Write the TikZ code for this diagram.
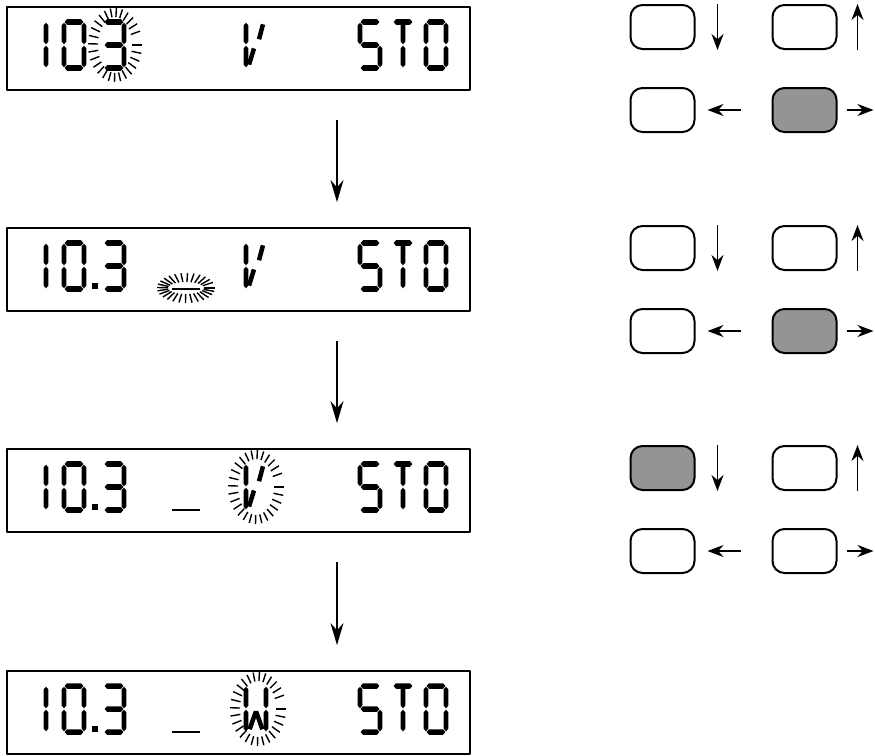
\documentclass[tikz,border=0pt]{standalone}
\usetikzlibrary{arrows.meta}
\newcommand\sgH[3]{\fill (#1+0.03,#3) -- (#1+0.15,#3-0.12) -- (#2-0.15,#3-0.12) -- (#2-0.03,#3) -- (#2-0.15,#3+0.12) -- (#1+0.15,#3+0.12) -- cycle;}
\newcommand\sgV[3]{\fill (#1,#2+0.03) -- (#1+0.12,#2+0.15) -- (#1+0.12,#3-0.15) -- (#1,#3-0.03) -- (#1-0.12,#3-0.15) -- (#1-0.12,#2+0.15) -- cycle;}
\newcommand\burst[6]{\foreach \a in {0,13,...,350}{\draw[ray] ({#1+#3*cos(\a)},{#2+#4*sin(\a)}) -- ({#1+#5*cos(\a)},{#2+#6*sin(\a)});}}
\tikzset{
  dispbox/.style={draw, line width=1.8pt, minimum width=463pt, minimum height=83pt, inner sep=0pt},
  btn/.style={draw, line width=2pt, rounded corners=12pt, minimum width=64pt, minimum height=44pt, inner sep=0pt},
  btnon/.style={btn, fill=black!42},
  flow/.style={line width=1.6pt, -{Stealth[length=22pt,width=13pt]}},
  karr/.style={line width=1.8pt, -{Stealth[length=16pt,width=12pt]}},
  ray/.style={line width=1.4pt},
  digit/.style={xscale=20,yscale=23},
  diag/.style={line width=4.5pt},
  pics/dzero/.style={code={\sgH{0}{1}{0}\sgV{1}{0}{1}\sgV{1}{1}{2}\sgH{0}{1}{2}\sgV{0}{1}{2}\sgV{0}{0}{1}}},
  pics/dthree/.style={code={\sgH{0}{1}{0}\sgV{1}{0}{1}\sgV{1}{1}{2}\sgH{0}{1}{2}\sgH{0}{1}{1}}},
  pics/dfive/.style={code={\sgH{0}{1}{0}\sgV{0}{0}{1}\sgH{0}{1}{1}\sgV{1}{1}{2}\sgH{0}{1}{2}}},
  pics/done/.style={code={\sgV{0}{0}{1}\sgV{0}{1}{2}}},
  pics/dT/.style={code={\sgH{0}{1}{0}\sgV{0.5}{0}{1}\sgV{0.5}{1}{2}}},
  pics/dV/.style={code={\sgV{0.1}{0}{1}\sgV{0.1}{1}{2}\draw[diag] (0.25,1.85)--(0.5,1.15);\draw[diag] (0.95,0.1)--(0.75,0.75);}},
  pics/dW/.style={code={\sgV{0}{0}{1}\sgV{0}{1}{2}\sgV{1}{0}{1}\sgV{1}{1}{2}\draw[diag] (0.5,1.1)--(0.18,1.88);\draw[diag] (0.5,1.1)--(0.82,1.88);}}
}
\begin{document}
\begin{tikzpicture}[x=1pt,y=-1pt,line join=round]
\useasboundingbox (0,0) rectangle (875,755);
% display boxes
\node[dispbox] (d1) at (238.5,48.5) {};
\node[dispbox] (d2) at (238.5,269.5) {};
\node[dispbox] (d3) at (238.5,490.5) {};
\node[dispbox] (d4) at (238.5,712.5) {};
\coordinate (ax) at (337,0);
\draw[flow,shorten <=29pt,shorten >=25pt] (d1.south -| ax) -- (d2.north -| ax);
\draw[flow,shorten <=29pt,shorten >=25pt] (d2.south -| ax) -- (d3.north -| ax);
\draw[flow,shorten <=29pt,shorten >=25pt] (d3.south -| ax) -- (d4.north -| ax);
% common display text
\foreach \t in {7,228,449,671}{
  \pic[digit] at (46,\t+15) {done};
  \pic[digit] at (64,\t+15) {dzero};
  \pic[digit] at (104,\t+15) {dthree};
  \pic[digit] at (360,\t+15) {dfive};
  \pic[digit] at (393,\t+15) {dT};
  \pic[digit] at (426,\t+15) {dzero};
}
\foreach \t in {228,449,671}{\fill (92,\t+55) rectangle (98,\t+61);}
\pic[digit] at (244,22) {dV};
\pic[digit] at (244,243) {dV};
\pic[digit] at (244,464) {dV};
\pic[digit] at (246,686) {dW};
% underscores
\draw[line width=2.8pt] (172,289) -- (200,289);
\draw[line width=2.8pt] (172,510) -- (200,510);
\draw[line width=2.8pt] (172,732) -- (200,732);
% flashing marks
\burst{115}{45}{17}{28}{27}{37}
\burst{186}{288}{18}{6}{29}{15}
\burst{256}{487}{18}{28}{28}{37}
\burst{258}{709}{18}{28}{28}{37}
% key groups
\node[btn]   (k11) at (662.5,27) {};
\node[btn]   (k12) at (804.5,27) {};
\node[btn]   (k13) at (662.5,110) {};
\node[btnon] (k14) at (804.5,110) {};
\node[btn]   (k21) at (662.5,248) {};
\node[btn]   (k22) at (804.5,248) {};
\node[btn]   (k23) at (662.5,331) {};
\node[btnon] (k24) at (804.5,331) {};
\node[btnon] (k31) at (662.5,468) {};
\node[btn]   (k32) at (804.5,468) {};
\node[btn]   (k33) at (662.5,551) {};
\node[btn]   (k34) at (804.5,551) {};
\foreach \g in {1,2,3}{
  \draw[karr] ([xshift=22pt]k\g1.north east) -- ([xshift=22pt]k\g1.south east);
  \draw[karr] ([xshift=20pt]k\g2.south east) -- ([xshift=20pt]k\g2.north east);
  \draw[karr] ([xshift=45pt]k\g3.east) -- ([xshift=12pt]k\g3.east);
  \draw[karr] ([xshift=9pt]k\g4.east) -- ([xshift=36pt]k\g4.east);
}
\end{tikzpicture}
\end{document}
